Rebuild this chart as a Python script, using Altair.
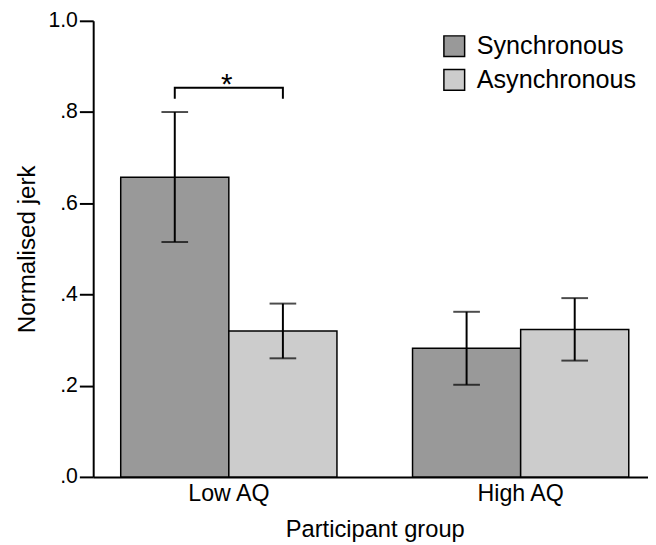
import altair as alt
import pandas as pd

groups = ["Low AQ", "Low AQ", "High AQ", "High AQ"]
conditions = ["Synchronous", "Asynchronous", "Synchronous", "Asynchronous"]
means = [0.657, 0.320, 0.282, 0.323]
err_low = [0.515, 0.260, 0.202, 0.255]
err_high = [0.800, 0.380, 0.362, 0.392]

group_order = ["Low AQ", "High AQ"]
cond_order = ["Synchronous", "Asynchronous"]
fill_colors = ["#999999", "#cccccc"]

bracket_groups = ["Low AQ", "Low AQ", "Low AQ", "Low AQ"]
bracket_conds = ["Synchronous", "Synchronous", "Asynchronous", "Asynchronous"]
bracket_y = [0.829, 0.853, 0.853, 0.829]
bracket_order = [0, 1, 2, 3]

star_group = ["Low AQ"]
star_y = [0.84]
star_text = ["*"]

FONT = "Liberation Sans"

df = pd.DataFrame({"group": groups, "cond": conditions, "mean": means,
                   "lo": err_low, "hi": err_high})
bdf = pd.DataFrame({"group": bracket_groups, "cond": bracket_conds,
                    "y": bracket_y, "o": bracket_order})
sdf = pd.DataFrame({"group": star_group, "y": star_y, "t": star_text})

x_enc = alt.X("group:N", sort=group_order,
              scale=alt.Scale(range=[0, 570.4], paddingInner=0.259, paddingOuter=0.0943),
              axis=alt.Axis(title="Participant group", ticks=False, labelAngle=0,
                            labelFontSize=23.5, titleFontSize=24, labelPadding=5,
                            titlePadding=13, labelColor="black", titleColor="black",
                            titleFontWeight="normal", domainColor="black", domainWidth=2))
xo_enc = alt.XOffset("cond:N", sort=cond_order)

y_scale = alt.Scale(domain=[0, 1], nice=False, zero=True)

bars = alt.Chart(df).mark_bar(stroke="black", strokeWidth=1.5).encode(
    x=x_enc,
    xOffset=xo_enc,
    y=alt.Y("mean:Q", scale=y_scale,
            axis=alt.Axis(title="Normalised jerk", values=[0, 0.2, 0.4, 0.6, 0.8, 1.0],
                          labelExpr="datum.value >= 1 ? '1.0' : '.' + format(datum.value*10, 'd')",
                          grid=False, tickSize=14, tickWidth=2, tickColor="black",
                          domainColor="black", domainWidth=2, labelFontSize=21.5,
                          titleFontSize=24.5, labelPadding=2, titlePadding=9,
                          labelColor="black", titleColor="black", titleFontWeight="normal")),
    fill=alt.Fill("cond:N", sort=cond_order,
                  scale=alt.Scale(domain=cond_order, range=fill_colors),
                  legend=alt.Legend(title=None, orient="none", legendX=353, legendY=13,
                                    symbolType="square", symbolSize=441,
                                    symbolStrokeColor="black", symbolStrokeWidth=1.5,
                                    symbolOpacity=1, labelFontSize=25.5, labelColor="black",
                                    labelOffset=10, labelLimit=400, rowPadding=6, padding=0)),
)

rules = alt.Chart(df).mark_rule(color="black", strokeWidth=2).encode(
    x=alt.X("group:N", sort=group_order), xOffset=xo_enc,
    y=alt.Y("lo:Q", scale=y_scale), y2="hi:Q")

caps_lo = alt.Chart(df).mark_tick(color="black", thickness=2, size=27).encode(
    x=alt.X("group:N", sort=group_order), xOffset=xo_enc,
    y=alt.Y("lo:Q", scale=y_scale))
caps_hi = alt.Chart(df).mark_tick(color="black", thickness=2, size=27).encode(
    x=alt.X("group:N", sort=group_order), xOffset=xo_enc,
    y=alt.Y("hi:Q", scale=y_scale))

bracket = alt.Chart(bdf).mark_line(color="black", strokeWidth=2).encode(
    x=alt.X("group:N", sort=group_order), xOffset=alt.XOffset("cond:N", sort=cond_order),
    y=alt.Y("y:Q", scale=y_scale), order="o:Q")

star = alt.Chart(sdf).mark_text(fontSize=30, font=FONT, color="black",
                                baseline="alphabetic", dx=-2).encode(
    x=alt.X("group:N", sort=group_order),
    y=alt.Y("y:Q", scale=y_scale), text="t:N")

chart = alt.layer(bars, rules, caps_lo, caps_hi, bracket, star).properties(
    width=562, height=462,
    autosize=alt.AutoSizeParams(type="none"),
    padding={"left": 86.3, "top": 9.5, "right": 0, "bottom": 65.5},
).configure(font=FONT).configure_view(stroke=None).configure_axis(
    labelFont=FONT, titleFont=FONT).configure_legend(labelFont=FONT)

chart.save("out.html", embed_options={"renderer": "svg", "actions": False})
